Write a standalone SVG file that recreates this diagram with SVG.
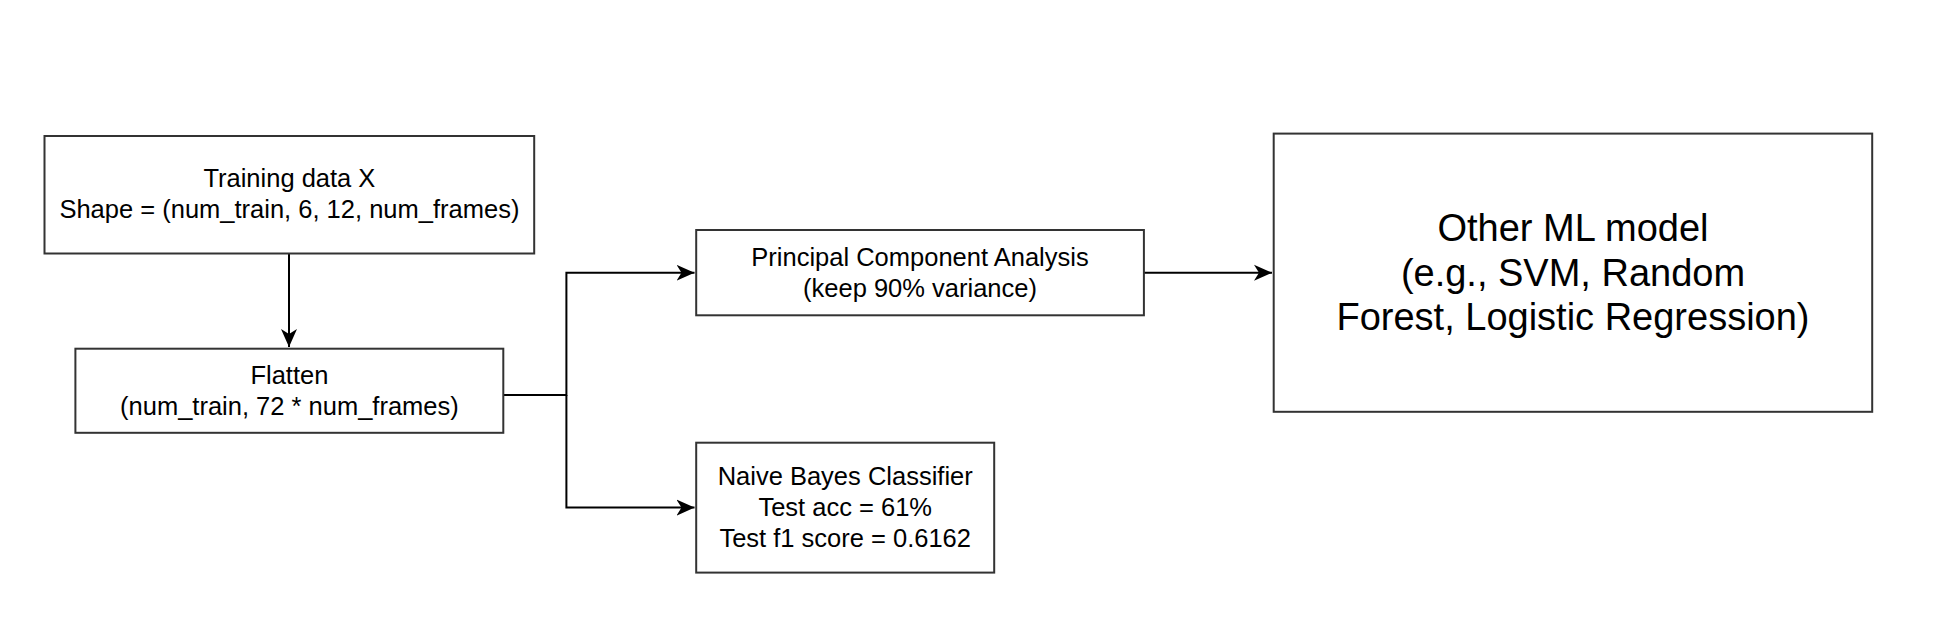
<svg xmlns="http://www.w3.org/2000/svg" width="1939" height="636" viewBox="0 0 1939 636">
<style>
.box{fill:#fff;stroke:#333;stroke-width:2}
.t{font-family:"Liberation Sans",Arial,sans-serif;font-size:25.5px;fill:#000;text-anchor:middle}
.big{font-size:38px}
.c{fill:none;stroke:#000;stroke-width:2}
</style>
<defs>
<marker id="arr" markerUnits="userSpaceOnUse" markerWidth="20" markerHeight="18" refX="18" refY="8" orient="auto" viewBox="0 0 20 16">
<path d="M0,0 L18,8 L0,16 L5,8 Z" fill="#000"/>
</marker>
</defs>
<rect width="1939" height="636" fill="#fff"/>
<g id="connectors">
<path class="c" d="M289,253.5 V347" marker-end="url(#arr)"/>
<path class="c" d="M503.3,395 H566.4 V272.7 H694.5" marker-end="url(#arr)"/>
<path class="c" d="M566.4,395 V507.6 H694.5" marker-end="url(#arr)"/>
<path class="c" d="M1143.9,272.7 H1272" marker-end="url(#arr)"/>
</g>
<g id="training">
<rect class="box" x="44.5" y="136" width="489.7" height="117.5"/>
<text class="t" x="289.4" y="187">Training data X</text>
<text class="t" x="289.4" y="218">Shape = (num_train, 6, 12, num_frames)</text>
</g>
<g id="flatten">
<rect class="box" x="75.4" y="348.7" width="427.9" height="84.1"/>
<text class="t" x="289.4" y="384">Flatten</text>
<text class="t" x="289.4" y="415">(num_train, 72 * num_frames)</text>
</g>
<g id="pca">
<rect class="box" x="696.2" y="230" width="447.7" height="85.3"/>
<text class="t" x="920" y="266">Principal Component Analysis</text>
<text class="t" x="920" y="297">(keep 90% variance)</text>
</g>
<g id="naive-bayes">
<rect class="box" x="696.2" y="442.7" width="298" height="129.9"/>
<text class="t" x="845.2" y="485.4">Naive Bayes Classifier</text>
<text class="t" x="845.2" y="516.4">Test acc = 61%</text>
<text class="t" x="845.2" y="547.4">Test f1 score = 0.6162</text>
</g>
<g id="other-model">
<rect class="box" x="1273.7" y="133.6" width="598.5" height="278.2"/>
<text class="t big" x="1573" y="241.4">Other ML model</text>
<text class="t big" x="1573" y="285.9">(e.g., SVM, Random</text>
<text class="t big" x="1573" y="330.4">Forest, Logistic Regression)</text>
</g>
</svg>
